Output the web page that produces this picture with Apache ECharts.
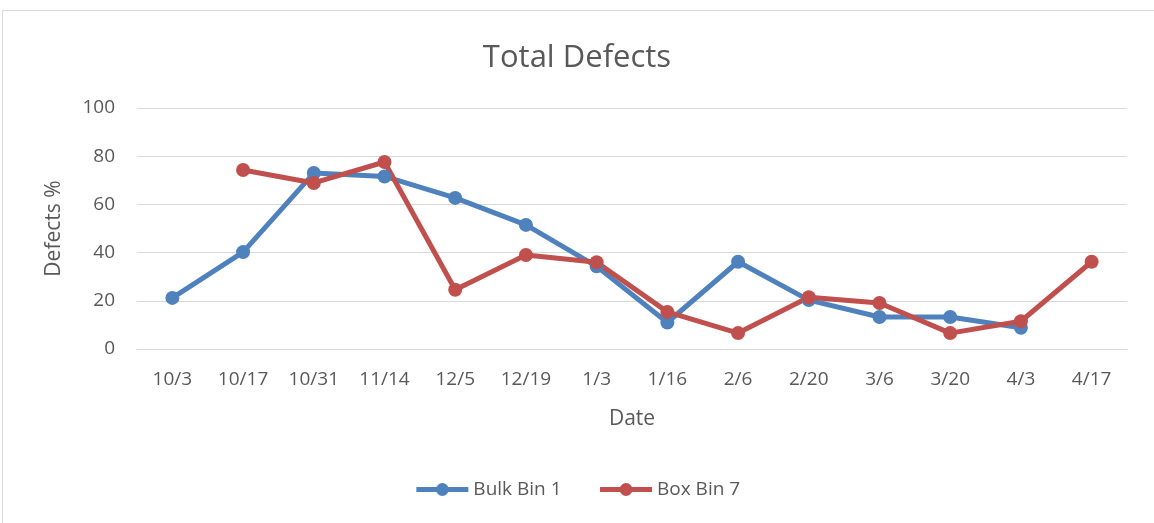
<!DOCTYPE html>
<html>
<head>
    <meta charset="utf-8" />
    <title>Total Defects</title>
    <script src="https://cdn.jsdelivr.net/npm/echarts@6/dist/echarts.min.js"></script>
    <style>
        html, body { margin: 0; padding: 0; background: #fff; }
        #frame { position: absolute; left: 2px; top: 10px; width: 1160px; height: 520px; border: 1px solid #d9d9d9; box-sizing: border-box; }
        #EChart { position: absolute; left: 0; top: 0; width: 1154px; height: 523px; }
    </style>
</head>
<body>
    <div id="frame"></div>
    <div id="EChart"></div>
    <script type="text/javascript">
        // data
        var dates = ['10/3', '10/17', '10/31', '11/14', '12/5', '12/19', '1/3', '1/16', '2/6', '2/20', '3/6', '3/20', '4/3', '4/17'];
        var bulkBin1 = [21.2, 40.2, 73, 71.6, 62.7, 51.5, 34.3, 11, 36.2, 20.3, 13.3, 13.3, 8.8, null];
        var boxBin7 = [null, 74.3, 68.9, 77.6, 24.6, 39, 36, 15.4, 6.6, 21.5, 19.1, 6.6, 11.5, 36.2];

        var fontFam = '"Open Sans", "Noto Sans", sans-serif';
        var grey = '#595959';

        var myChart = echarts.init(document.getElementById('EChart'));
        var option = {
            animation: false,
            title: {
                text: 'Total Defects',
                left: 'center',
                top: 38,
                textStyle: { fontFamily: fontFam, fontSize: 31, fontWeight: 'normal', color: grey }
            },
            legend: {
                bottom: 19,
                left: 'center',
                itemWidth: 52,
                itemHeight: 16,
                itemGap: 36,
                lineStyle: { width: 5 },
                textStyle: { fontFamily: fontFam, fontSize: 19, color: grey },
                data: ['Bulk Bin 1', 'Box Bin 7']
            },
            grid: { left: 137, right: 27, top: 108, bottom: 174 },
            xAxis: {
                type: 'category',
                data: dates,
                name: 'Date',
                nameLocation: 'middle',
                nameGap: 60,
                nameTextStyle: { fontFamily: fontFam, fontSize: 21, color: grey },
                axisLine: { lineStyle: { color: '#d9d9d9', width: 1 } },
                axisTick: { show: false },
                axisLabel: { fontFamily: fontFam, fontSize: 19, color: grey, margin: 21, interval: 0 }
            },
            yAxis: {
                type: 'value',
                min: 0,
                max: 100,
                interval: 20,
                name: 'Defects %',
                nameLocation: 'middle',
                nameGap: 72,
                nameTextStyle: { fontFamily: fontFam, fontSize: 21, color: grey },
                axisLine: { show: false },
                axisTick: { show: false },
                axisLabel: { fontFamily: fontFam, fontSize: 19, color: grey, margin: 22 },
                splitLine: { lineStyle: { color: '#d9d9d9', width: 1 } }
            },
            series: [{
                name: 'Bulk Bin 1',
                type: 'line',
                data: bulkBin1,
                symbol: 'circle',
                symbolSize: 14,
                color: '#4f81bd',
                lineStyle: { width: 5, color: '#4f81bd' },
                itemStyle: { color: '#4f81bd' }
            }, {
                name: 'Box Bin 7',
                type: 'line',
                data: boxBin7,
                symbol: 'circle',
                symbolSize: 14,
                color: '#c0504d',
                lineStyle: { width: 5, color: '#c0504d' },
                itemStyle: { color: '#c0504d' }
            }]
        };
        myChart.setOption(option);
    </script>
</body>
</html>
